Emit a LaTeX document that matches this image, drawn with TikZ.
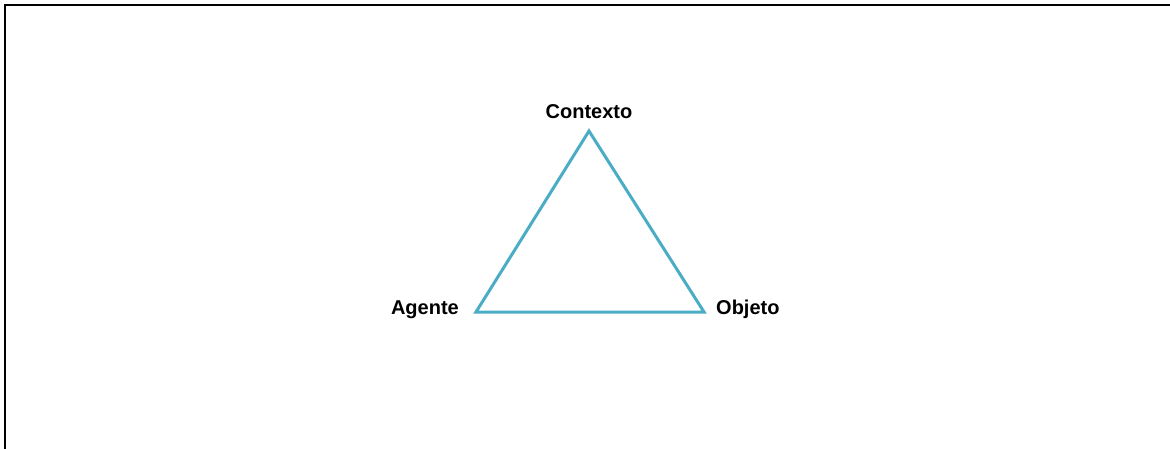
\documentclass[tikz,border=0pt]{standalone}
\usepackage{fontspec}
\setmainfont{Liberation Sans}
\definecolor{tri}{HTML}{4BACC6}
\begin{document}
\begin{tikzpicture}[x=1pt,y=-1pt,
  lbl/.style={inner sep=0pt,font=\fontsize{20}{24}\selectfont\bfseries},
  edge/.style={draw=tri,line width=3pt,line join=miter}]
\useasboundingbox (0,0) rectangle (1170,449);
\coordinate (tl) at (5,5);
\coordinate (tr) at (1170,5);
\coordinate (bl) at (5,449);
\draw[line width=2.5pt] (tr) -- (tl) -- (bl);
\coordinate (C) at (589,131);
\coordinate (A) at (476,312);
\coordinate (O) at (704,312);
\draw[edge] (C) -- (A) -- (O) -- cycle;
\node[lbl,anchor=base] (lc) at (589,119) {Contexto};
\node[lbl,anchor=base east] (la) at (459,314) {Agente};
\node[lbl,anchor=base west] (lo) at (716,314) {Objeto};
\end{tikzpicture}
\end{document}
